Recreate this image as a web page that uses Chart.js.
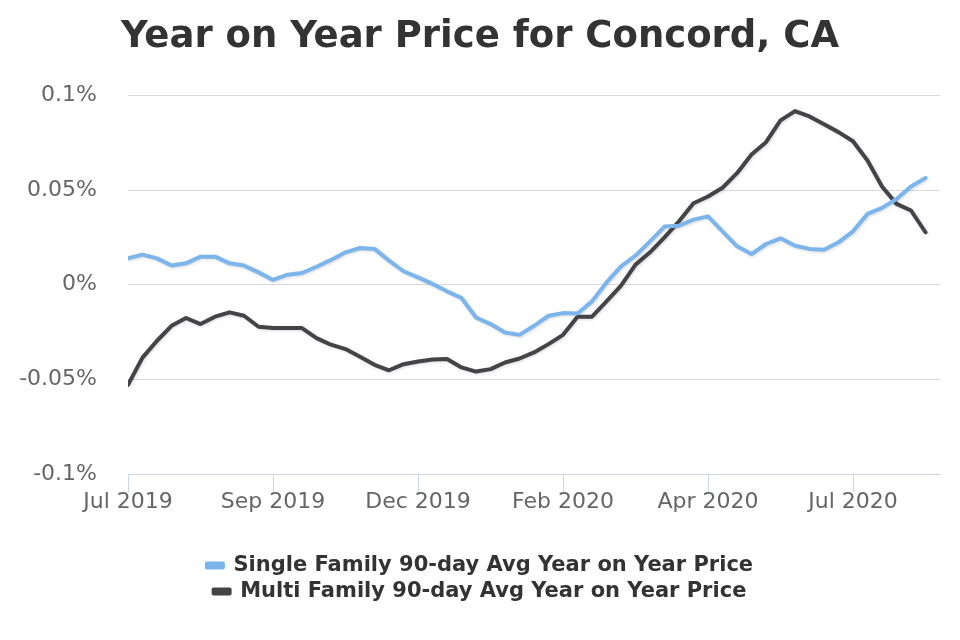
<!DOCTYPE html>
<html>
<head>
<meta charset="utf-8">
<script src="https://cdn.jsdelivr.net/npm/chart.js@4"></script>
<style>
  html, body { margin: 0; padding: 0; background: #ffffff; }
  #wrap { width: 960px; height: 640px; position: relative; }
</style>
</head>
<body>
<div id="wrap"><canvas id="c" width="960" height="640"></canvas></div>
<script>
const chartTitle = 'Year on Year Price for Concord, CA';
const tickLabels = ['Jul 2019', 'Sep 2019', 'Dec 2019', 'Feb 2020', 'Apr 2020', 'Jul 2020'];
const seriesNames = ['Single Family 90-day Avg Year on Year Price', 'Multi Family 90-day Avg Year on Year Price'];
const singleFamily = [
  0.0139, 0.0159, 0.0139, 0.0101, 0.0113, 0.0148, 0.0148, 0.0113, 0.0101, 0.0065,
  0.0025, 0.0053, 0.0062, 0.0095, 0.0131, 0.0171, 0.0194, 0.0189, 0.0127, 0.0071,
  0.0039, 0.0004, -0.0035, -0.0070, -0.0173, -0.0208, -0.0252, -0.0265, -0.0217, -0.0164,
  -0.0150, -0.0152, -0.0088, 0.0012, 0.0097, 0.0153, 0.0229, 0.0307, 0.0312, 0.0344,
  0.0361, 0.0282, 0.0203, 0.0162, 0.0215, 0.0245, 0.0206, 0.0189, 0.0185, 0.0224,
  0.0282, 0.0374, 0.0406, 0.0453, 0.0519, 0.0564
];
const multiFamily = [
  -0.0529, -0.0385, -0.0296, -0.0217, -0.0176, -0.0208, -0.0169, -0.0146, -0.0164, -0.0222,
  -0.0229, -0.0229, -0.0229, -0.0282, -0.0317, -0.0340, -0.0381, -0.0423, -0.0452, -0.0420,
  -0.0406, -0.0395, -0.0393, -0.0437, -0.0459, -0.0446, -0.0411, -0.0390, -0.0358, -0.0314,
  -0.0265, -0.0169, -0.0169, -0.0088, -0.0005, 0.0106, 0.0171, 0.0250, 0.0335, 0.0430,
  0.0466, 0.0512, 0.0589, 0.0688, 0.0753, 0.0868, 0.0917, 0.0889, 0.0847, 0.0806,
  0.0758, 0.0656, 0.0519, 0.0427, 0.0392, 0.0277
];
const labelEvery = 10;   // one tick label every 10 weekly points
const axisPeriods = 56;  // axis runs slightly past the last point

const toPoints = (arr) => arr.map((v, i) => ({ x: i, y: v }));

const FONT = "'DejaVu Sans', sans-serif";

const shadowPlugin = {
  id: 'lineShadow',
  beforeDatasetDraw(chart) {
    const ctx = chart.ctx;
    ctx.save();
    ctx.shadowColor = 'rgba(0,0,0,0.15)';
    ctx.shadowBlur = 3;
    ctx.shadowOffsetX = 1;
    ctx.shadowOffsetY = 1;
  },
  afterDatasetDraw(chart) {
    chart.ctx.restore();
  }
};

new Chart(document.getElementById('c'), {
  type: 'line',
  data: {
    datasets: [
      {
        label: seriesNames[0],
        data: toPoints(singleFamily),
        borderColor: '#7cb5ec',
        backgroundColor: '#7cb5ec',
        borderWidth: 4,
        pointRadius: 0,
        tension: 0,
        borderJoinStyle: 'round',
        borderCapStyle: 'round',
        fill: false
      },
      {
        label: seriesNames[1],
        data: toPoints(multiFamily),
        borderColor: '#434348',
        backgroundColor: '#434348',
        borderWidth: 4,
        pointRadius: 0,
        tension: 0,
        borderJoinStyle: 'round',
        borderCapStyle: 'round',
        fill: false
      }
    ]
  },
  options: {
    responsive: false,
    animation: false,
    layout: { padding: { left: 20, right: 20, top: 0, bottom: 28 } },
    plugins: {
      title: {
        display: true,
        text: chartTitle,
        color: '#333333',
        font: { family: FONT, size: 37, weight: 'bold' },
        padding: { top: 15, bottom: 36 }
      },
      legend: {
        position: 'bottom',
        labels: {
          color: '#333333',
          font: { family: FONT, size: 21, weight: 'bold' },
          boxWidth: 16,
          boxHeight: 4,
          padding: 5
        }
      },
      tooltip: { enabled: false }
    },
    scales: {
      x: {
        type: 'linear',
        min: 0,
        max: axisPeriods,
        grid: {
          drawOnChartArea: false,
          drawTicks: true,
          tickLength: 18,
          color: '#ccd6eb'
        },
        border: { display: true, color: '#ccd6eb', width: 1 },
        ticks: {
          stepSize: labelEvery,
          autoSkip: false,
          maxRotation: 0,
          minRotation: 0,
          padding: -3,
          color: '#666666',
          font: { family: FONT, size: 22 },
          callback: (v) => tickLabels[v / labelEvery] || ''
        },
        afterBuildTicks: (scale) => {
          scale.ticks = scale.ticks.filter(t => t.value % labelEvery === 0 && tickLabels[t.value / labelEvery]);
        },
        afterFit: (scale) => { scale.height = 76; }
      },
      y: {
        min: -0.1,
        max: 0.1,
        grid: { color: '#dadada', lineWidth: 1, drawTicks: false },
        border: { display: false },
        ticks: {
          stepSize: 0.05,
          padding: 31,
          color: '#666666',
          font: { family: FONT, size: 22 },
          callback: (v) => (Math.round(v * 1000) / 1000) + '%'
        },
        afterFit: (scale) => { scale.width = 108; }
      }
    }
  },
  plugins: [shadowPlugin]
});
</script>
</body>
</html>
